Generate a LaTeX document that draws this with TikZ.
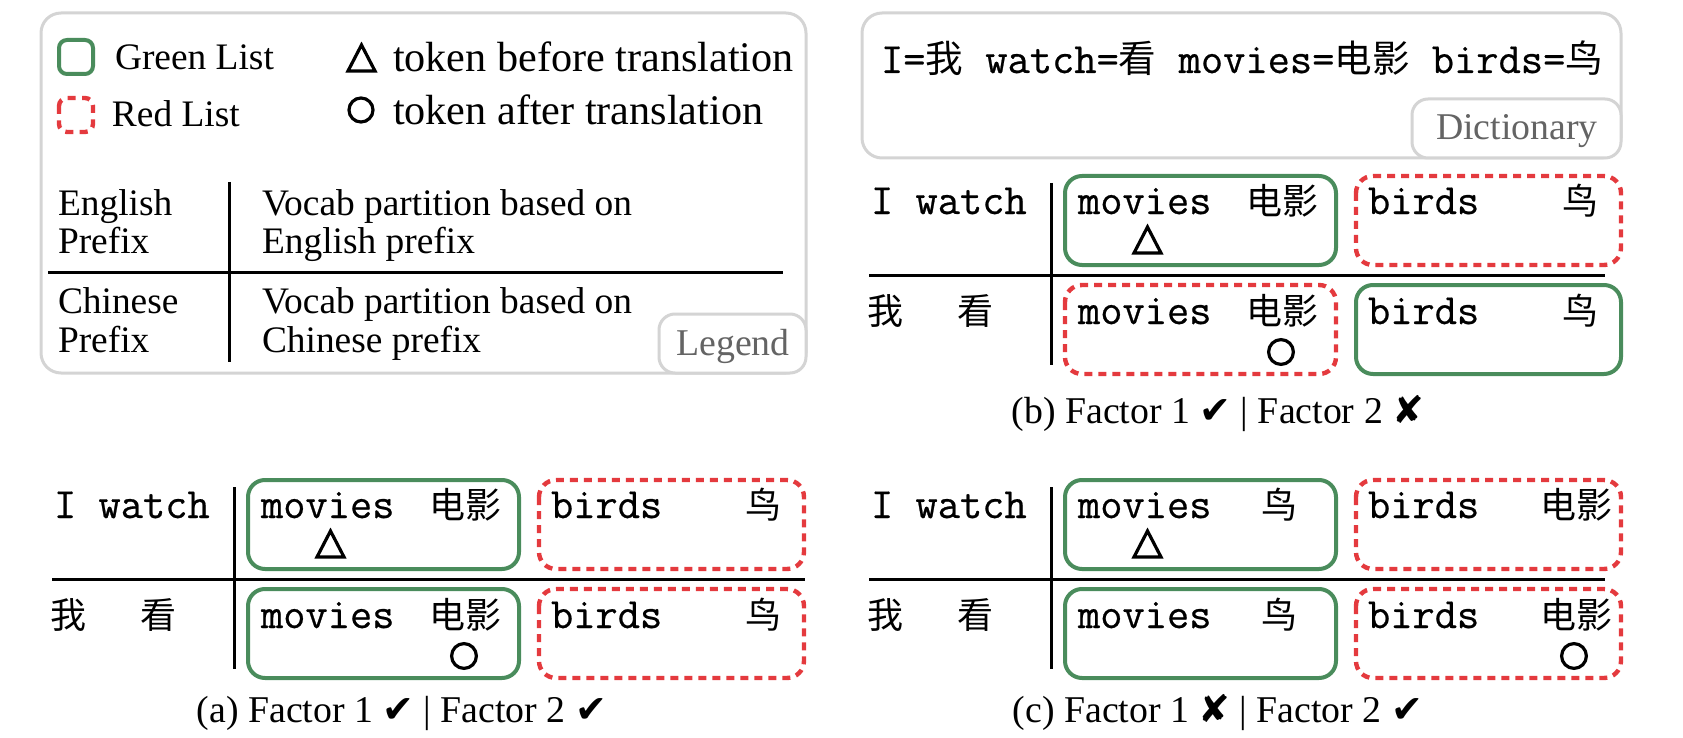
\documentclass[tikz,border=0pt]{standalone}
\usepackage{fontspec}
\setmainfont{Liberation Serif}
\setmonofont{Latin Modern Mono}[FakeBold=0.5]
\newfontfamily\cjk{Noto Sans CJK SC}
\newfontfamily\symf{DejaVu Sans}
\definecolor{gl}{RGB}{74,140,92}
\definecolor{rl}{RGB}{228,58,62}
\definecolor{bd}{RGB}{212,212,212}
\definecolor{lbl}{RGB}{100,100,100}
\newcommand\zhs[1]{{\fontsize{18.8}{19}\cjk #1}}
\newcommand\ck{{\fontsize{19}{19}\symf ✔}}
\newcommand\xk{{\fontsize{19}{19}\symf ✘}}
\tikzset{
  every node/.style={inner sep=0pt, outer sep=0pt},
  txt/.style={font=\fontsize{18.7}{19}\selectfont, anchor=base west},
  tok/.style={font=\fontsize{21.1}{22}\selectfont, anchor=base west},
  captxt/.style={font=\fontsize{18.9}{19}\selectfont, anchor=base},
  tabtxt/.style={font=\fontsize{18.9}{19}\selectfont, anchor=base, text=lbl},
  mono/.style={font=\fontsize{21.6}{22}\ttfamily, anchor=base west},
  zh/.style={font=\fontsize{18}{19}\cjk, anchor=base west},
  greenbox/.style={draw=gl, line width=2pt, rounded corners=8.5pt},
  redbox/.style={draw=rl, line width=2.2pt, rounded corners=8.5pt, dash pattern=on 4pt off 3pt},
  greenicon/.style={draw=gl, line width=2pt, rounded corners=4pt},
  redicon/.style={draw=rl, line width=2.2pt, rounded corners=4pt, dash pattern=on 4pt off 3.2pt},
  frame/.style={draw=bd, line width=1.5pt, rounded corners=10pt, fill=white},
  tabframe/.style={draw=bd, line width=1.5pt, rounded corners=8pt, fill=white},
  rule/.style={line width=1.5pt},
  trimark/.style={draw=black, line width=1.6pt, line join=miter},
  circmark/.style={draw=black, line width=1.6pt},
}
\begin{document}
\begin{tikzpicture}[x=0.5pt,y=-0.5pt]
\useasboundingbox (0,0) rectangle (1683,738);

% ---------------- Legend ----------------
\draw[frame] (41,13) rectangle (806,373);
\draw[greenicon] (59,40) rectangle (93,74);
\node[txt] (glist) at (115,70) {Green List};
\draw[redicon] (59,98) rectangle (93,132);
\node[txt] (rlist) at (112,127) {Red List};
\draw[trimark] (361.5,58) ++(-13.5,13) -- ++(27,0) -- ++(-13.5,-26) -- cycle;
\node[tok] (tbefore) at (393,72) {token before translation};
\draw[circmark] (361,110) circle[radius=6pt];
\node[tok] (tafter) at (393,125) {token after translation};
\node[txt] (en1) at (58,215) {English};
\node[txt] (en2) at (58,253) {Prefix};
\node[txt] (zh1) at (58,314) {Chinese};
\node[txt] (zh2) at (58,352) {Prefix};
\node[txt] (ev1) at (262,215) {Vocab partition based on};
\node[txt] (ev2) at (262,253) {English prefix};
\node[txt] (zv1) at (262,314) {Vocab partition based on};
\node[txt] (zv2) at (262,352) {Chinese prefix};
\draw[rule] (229,182) -- (229,362);
\draw[rule] (48,272) -- (783,272);
\draw[tabframe] (659,314) rectangle (806,373);
\node[tabtxt] (legend) at (733,355) {Legend};

% ---------------- Dictionary ----------------
\draw[frame] (862,13) rectangle (1621,158);
\node[mono] (dict) at (881,73) {I=\zhs{我} watch=\zhs{看} movies=\zhs{电影} birds=\zhs{鸟}};
\draw[tabframe] (1412,99) rectangle (1621,158);
\node[tabtxt] (dictlabel) at (1517,140) {Dictionary};

% ---------------- Panel (b) ----------------
\begin{scope}[name prefix=b-]
\node[mono] (en) at (871,214) {I watch};
\node[zh] (zh) at (867,324) {我\hspace{27.5pt}看};
\draw[rule] (1051,183) -- (1051,365);
\draw[rule] (869,275) -- (1605,275);
\draw[greenbox] (1065,176) rectangle (1336,265);
\draw[redbox] (1356,176) rectangle (1621,265);
\draw[redbox] (1065,285) rectangle (1336,374);
\draw[greenbox] (1356,285) rectangle (1621,374);
\node[mono] (w1) at (1078,214) {movies};
\node[zh] (c1) at (1246,214) {电影};
\node[mono] (w2) at (1368,214) {birds};
\node[zh] (c2) at (1562,214) {鸟};
\node[mono] (w3) at (1078,324) {movies};
\node[zh] (c3) at (1246,324) {电影};
\node[mono] (w4) at (1368,324) {birds};
\node[zh] (c4) at (1562,324) {鸟};
\draw[trimark] (1147.5,240) ++(-13.5,13) -- ++(27,0) -- ++(-13.5,-26) -- cycle;
\draw[circmark] (1281,352) circle[radius=6.2pt];
\node[captxt] (cap) at (1218,423) {(b) Factor 1 \ck{} | Factor 2 \xk{}};
\end{scope}

% ---------------- Panel (a) ----------------
\begin{scope}[shift={(-817,304)}, name prefix=a-]
\node[mono] (en) at (871,214) {I watch};
\node[zh] (zh) at (867,324) {我\hspace{27.5pt}看};
\draw[rule] (1051,183) -- (1051,365);
\draw[rule] (869,275) -- (1622,275);
\draw[greenbox] (1065,176) rectangle (1336,265);
\draw[redbox] (1356,176) rectangle (1621,265);
\draw[greenbox] (1065,285) rectangle (1336,374);
\draw[redbox] (1356,285) rectangle (1621,374);
\node[mono] (w1) at (1078,214) {movies};
\node[zh] (c1) at (1246,214) {电影};
\node[mono] (w2) at (1368,214) {birds};
\node[zh] (c2) at (1562,214) {鸟};
\node[mono] (w3) at (1078,324) {movies};
\node[zh] (c3) at (1246,324) {电影};
\node[mono] (w4) at (1368,324) {birds};
\node[zh] (c4) at (1562,324) {鸟};
\draw[trimark] (1147.5,240) ++(-13.5,13) -- ++(27,0) -- ++(-13.5,-26) -- cycle;
\draw[circmark] (1281,352) circle[radius=6.2pt];
\node[captxt] (cap) at (1219,418) {(a) Factor 1 \ck{} | Factor 2 \ck{}};
\end{scope}

% ---------------- Panel (c) ----------------
\begin{scope}[shift={(0,304)}, name prefix=c-]
\node[mono] (en) at (871,214) {I watch};
\node[zh] (zh) at (867,324) {我\hspace{27.5pt}看};
\draw[rule] (1051,183) -- (1051,365);
\draw[rule] (869,275) -- (1605,275);
\draw[greenbox] (1065,176) rectangle (1336,265);
\draw[redbox] (1356,176) rectangle (1621,265);
\draw[greenbox] (1065,285) rectangle (1336,374);
\draw[redbox] (1356,285) rectangle (1621,374);
\node[mono] (w1) at (1078,214) {movies};
\node[zh] (c1) at (1261,214) {鸟};
\node[mono] (w2) at (1368,214) {birds};
\node[zh] (c2) at (1540,214) {电影};
\node[mono] (w3) at (1078,324) {movies};
\node[zh] (c3) at (1261,324) {鸟};
\node[mono] (w4) at (1368,324) {birds};
\node[zh] (c4) at (1540,324) {电影};
\draw[trimark] (1147.5,240) ++(-13.5,13) -- ++(27,0) -- ++(-13.5,-26) -- cycle;
\draw[circmark] (1574,352) circle[radius=6.2pt];
\node[captxt] (cap) at (1218,418) {(c) Factor 1 \xk{} | Factor 2 \ck{}};
\end{scope}
\end{tikzpicture}
\end{document}
